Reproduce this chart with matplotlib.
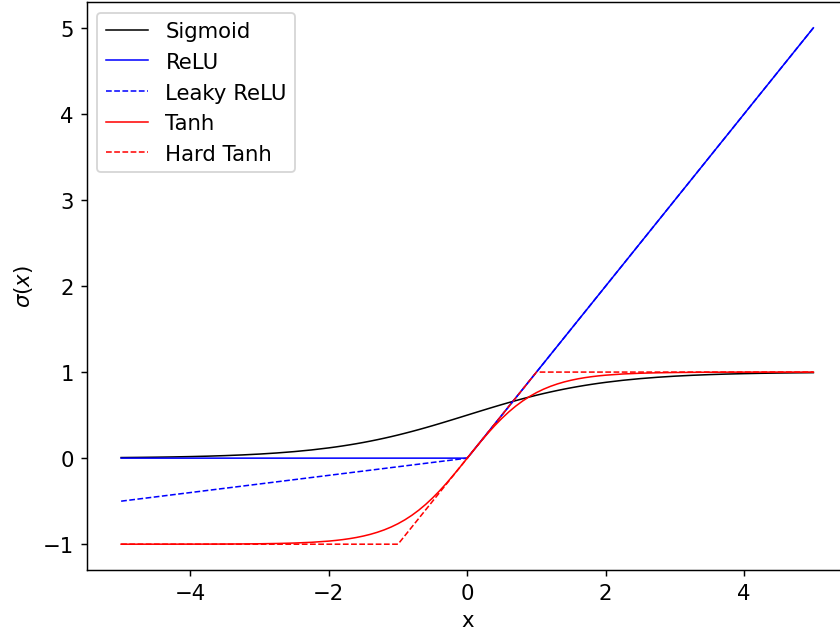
import matplotlib
matplotlib.use("Agg")
import matplotlib.pyplot as plt

plt.rcParams["font.size"] = 11.7

# x grid
x_smooth = [-5.0, -4.75, -4.5, -4.25, -4.0, -3.75, -3.5, -3.25, -3.0, -2.75, -2.5, -2.25,
            -2.0, -1.9, -1.8, -1.7, -1.6, -1.5, -1.4, -1.3, -1.2, -1.1,
            -1.0, -0.9, -0.8, -0.7, -0.6, -0.5, -0.4, -0.3, -0.2, -0.1, 0.0,
            0.1, 0.2, 0.3, 0.4, 0.5, 0.6, 0.7, 0.8, 0.9, 1.0,
            1.1, 1.2, 1.3, 1.4, 1.5, 1.6, 1.7, 1.8, 1.9, 2.0,
            2.25, 2.5, 2.75, 3.0, 3.25, 3.5, 3.75, 4.0, 4.25, 4.5, 4.75, 5.0]

sigmoid_y = [0.0067, 0.0086, 0.0110, 0.0140, 0.0180, 0.0230, 0.0293, 0.0373, 0.0474, 0.0601, 0.0759, 0.0953,
             0.1192, 0.1301, 0.1419, 0.1545, 0.1680, 0.1824, 0.1978, 0.2142, 0.2315, 0.2497,
             0.2689, 0.2891, 0.3100, 0.3318, 0.3543, 0.3775, 0.4013, 0.4256, 0.4502, 0.4750, 0.5000,
             0.5250, 0.5498, 0.5744, 0.5987, 0.6225, 0.6457, 0.6682, 0.6900, 0.7109, 0.7311,
             0.7503, 0.7685, 0.7858, 0.8022, 0.8176, 0.8320, 0.8455, 0.8581, 0.8699, 0.8808,
             0.9047, 0.9241, 0.9399, 0.9526, 0.9627, 0.9707, 0.9770, 0.9820, 0.9860, 0.9890, 0.9914, 0.9933]

tanh_y = [-0.9999, -0.9999, -0.9998, -0.9996, -0.9993, -0.9989, -0.9982, -0.9970, -0.9951, -0.9918, -0.9866, -0.9780,
          -0.9640, -0.9562, -0.9468, -0.9354, -0.9217, -0.9051, -0.8854, -0.8617, -0.8337, -0.8005,
          -0.7616, -0.7163, -0.6640, -0.6044, -0.5370, -0.4621, -0.3799, -0.2913, -0.1974, -0.0997, 0.0,
          0.0997, 0.1974, 0.2913, 0.3799, 0.4621, 0.5370, 0.6044, 0.6640, 0.7163, 0.7616,
          0.8005, 0.8337, 0.8617, 0.8854, 0.9051, 0.9217, 0.9354, 0.9468, 0.9562, 0.9640,
          0.9780, 0.9866, 0.9918, 0.9951, 0.9970, 0.9982, 0.9989, 0.9993, 0.9996, 0.9998, 0.9999, 0.9999]

relu_x = [-5.0, 0.0, 5.0]
relu_y = [0.0, 0.0, 5.0]

leaky_x = [-5.0, 0.0, 5.0]
leaky_y = [-0.5, 0.0, 5.0]

hardtanh_x = [-5.0, -1.0, 1.0, 5.0]
hardtanh_y = [-1.0, -1.0, 1.0, 1.0]

fig = plt.figure(figsize=(6.4, 4.853), dpi=131.25)
ax = fig.add_subplot(111)
fig.subplots_adjust(left=0.103, right=1.0095, top=0.9953, bottom=0.1036)

ax.plot(x_smooth, sigmoid_y, color="black", lw=0.85, label="Sigmoid")
ax.plot(relu_x, relu_y, color="blue", lw=0.85, label="ReLU")
ax.plot(leaky_x, leaky_y, color="blue", lw=0.85, ls="--", label="Leaky ReLU")
ax.plot(x_smooth, tanh_y, color="red", lw=0.85, label="Tanh")
ax.plot(hardtanh_x, hardtanh_y, color="red", lw=0.85, ls="--", label="Hard Tanh")

ax.set_xlabel("x")
ax.set_ylabel(r"$\sigma(x)$")
ax.legend(loc="upper left")

fig.savefig("out.png", dpi=131.25)
